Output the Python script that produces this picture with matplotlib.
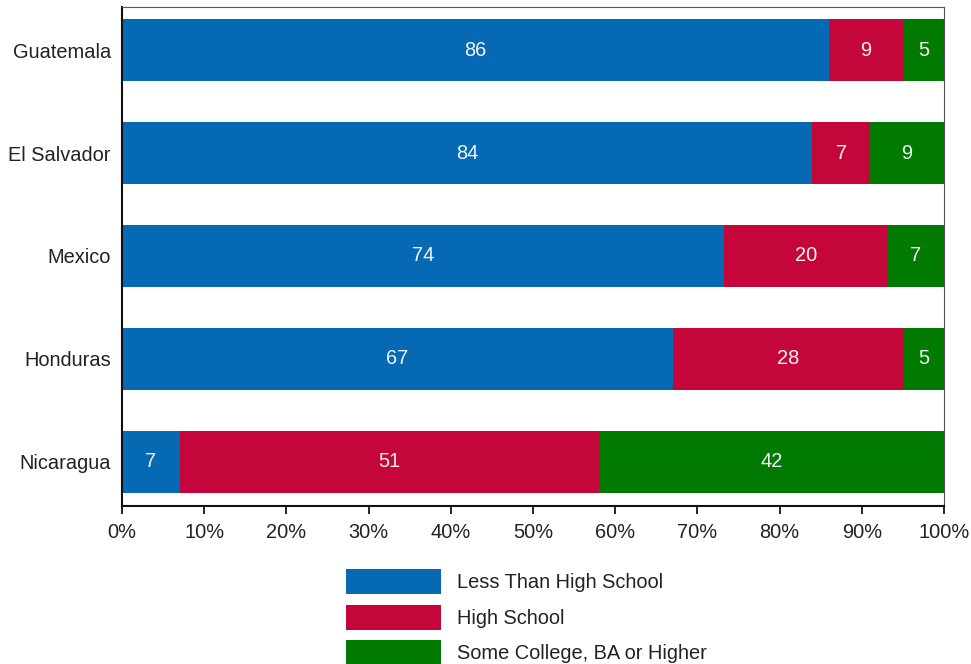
import numpy as np
import matplotlib.pyplot as plt
from matplotlib.ticker import PercentFormatter

plt.rcParams['font.family'] = ['Liberation Sans', 'DejaVu Sans']

countries = ['Guatemala', 'El Salvador', 'Mexico', 'Honduras', 'Nicaragua']
less_hs = [86, 84, 74, 67, 7]
high_school = [9, 7, 20, 28, 51]
college = [5, 9, 7, 5, 42]
series_names = ['Less Than High School', 'High School', 'Some College, BA or Higher']
colors = ['#0569b3', '#c4063a', '#007a00']

data = np.array([less_hs, high_school, college], dtype=float)
shares = data / data.sum(axis=0) * 100

fs = 14.4

fig = plt.figure(figsize=(9.71, 6.64), dpi=100)
ax = fig.add_axes([0.1256, 0.238, 0.8466, 0.7515])

y = np.arange(len(countries))
left = np.zeros(len(countries))
for vals, raw, name, c in zip(shares, data, series_names, colors):
    ax.barh(y, vals, left=left, height=0.6, color=c, label=name)
    for yi, l, v, r in zip(y, left, vals, raw):
        ax.text(l + v / 2, yi, '%d' % r, ha='center', va='center',
                color='#f4f4f4', fontsize=fs)
    left += vals

ax.set_xlim(0, 100)
ax.set_ylim(len(countries) - 1 + 0.43, -0.42)
ax.set_yticks(y)
ax.set_yticklabels(countries)
ax.set_xticks(np.arange(0, 101, 10))
ax.xaxis.set_major_formatter(PercentFormatter(decimals=0))
ax.tick_params(axis='y', length=0, pad=8, labelsize=fs, labelcolor='#222222')
ax.tick_params(axis='x', direction='out', length=6, width=1.2,
               labelsize=fs, labelcolor='#222222', pad=6)
for s in ax.spines.values():
    s.set_color('#555555')
ax.spines['left'].set_color('#111111')
ax.spines['bottom'].set_color('#111111')
ax.spines['left'].set_linewidth(1.5)
ax.spines['bottom'].set_linewidth(1.5)

fig.legend(loc='upper left', bbox_to_anchor=(0.3563, 0.1431), frameon=False,
           fontsize=fs, handlelength=4.75, handleheight=1.546, labelspacing=0.53,
           handletextpad=0.8, borderpad=0, borderaxespad=0,
           labelcolor='#222222')

plt.savefig('out.png', dpi=100)
plt.close()
